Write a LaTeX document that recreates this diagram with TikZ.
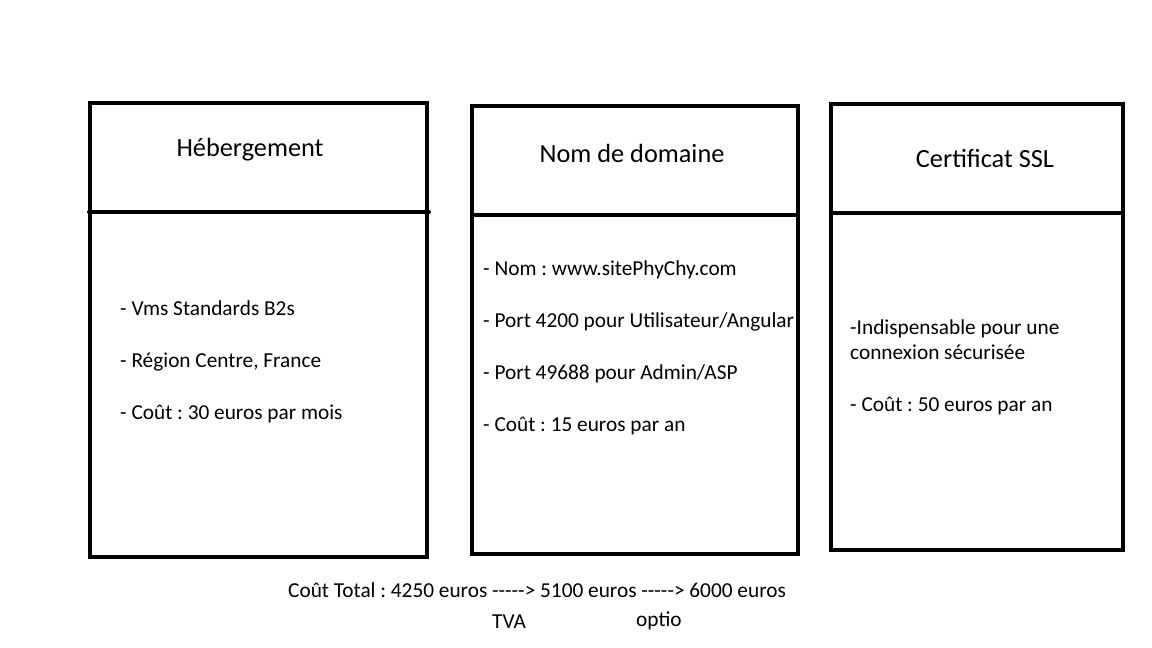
\documentclass[tikz,border=0pt]{standalone}
\usepackage{fontspec}
\setmainfont{Carlito}
\frenchspacing
\begin{document}
\begin{tikzpicture}[x=1pt,y=-1pt,
  box/.style={draw, line width=4pt, inner sep=0pt},
  divline/.style={line width=4pt, line cap=round},
  title/.style={font=\fontsize{26.3}{30}\selectfont, inner sep=0pt},
  body/.style={font=\fontsize{21.3}{25}\selectfont, inner sep=0pt, anchor=base west}
]
\useasboundingbox (0,0) rectangle (1152,648);
% boxes
\node[box, minimum width=337pt, minimum height=454pt] (b1) at (258.5,330) {};
\node[box, minimum width=326pt, minimum height=448pt] (b2) at (635,330) {};
\node[box, minimum width=292pt, minimum height=446pt] (b3) at (977,327) {};
% dividers
\coordinate (d1l) at (89,212); \coordinate (d1r) at (429,212);
\draw[divline] (d1l) -- (d1r);
\coordinate (d2l) at (472,215); \coordinate (d2r) at (798,215);
\draw[line width=4pt] (d2l) -- (d2r);
\coordinate (d3l) at (831,213); \coordinate (d3r) at (1123,213);
\draw[line width=4pt] (d3l) -- (d3r);
% titles
\node[title] (t1) at (250,150) {Hébergement};
\node[title] (t2) at (632,153) {Nom de domaine};
\node[title] (t3) at (985,159) {Certificat SSL};
% box 1 text
\node[body] (a1) at (120,315) {- Vms Standards B2s};
\node[body] (a2) at (120,367) {- Région Centre, France};
\node[body] (a3) at (120,419) {- Coût : 30 euros par mois};
% box 2 text
\node[body] (c1) at (483,275) {- Nom : www.sitePhyChy.com};
\node[body] (c2) at (483,327) {- Port 4200 pour Utilisateur/Angular};
\node[body] (c3) at (483,379) {- Port 49688 pour Admin/ASP};
\node[body] (c4) at (483,431) {- Coût : 15 euros par an};
% box 3 text
\node[body] (e1) at (850,334) {-Indispensable pour une};
\node[body] (e2) at (850,359) {connexion sécurisée};
\node[body] (e3) at (850,411) {- Coût : 50 euros par an};
% bottom
\node[body] (tot) at (288,597) {Coût Total : 4250 euros -{}-{}-{}-{}-> 5100 euros -{}-{}-{}-{}-> 6000 euros};
\node[body] (tva) at (492,628) {TVA};
\node[body] (opt) at (636,626) {optio};
\end{tikzpicture}
\end{document}
